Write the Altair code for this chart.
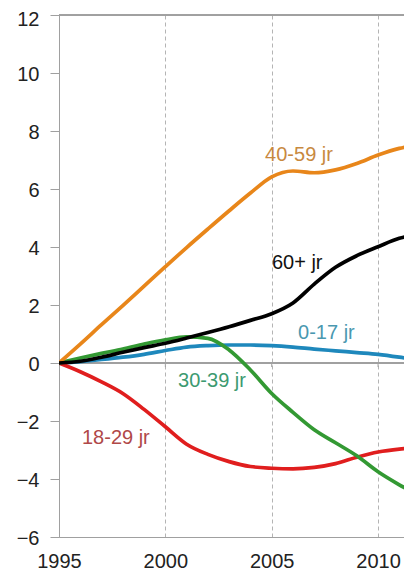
import altair as alt
import pandas as pd

years = list(range(1995, 2013))
s_0_17 = [0, 0.05, 0.12, 0.2, 0.3, 0.43, 0.55, 0.6, 0.62, 0.62, 0.6, 0.55, 0.48, 0.42, 0.36, 0.3, 0.2, 0.08]
s_18_29 = [0, -0.3, -0.65, -1.05, -1.6, -2.2, -2.8, -3.15, -3.4, -3.57, -3.63, -3.65, -3.6, -3.47, -3.25, -3.07, -2.97, -2.92]
s_30_39 = [0, 0.17, 0.33, 0.48, 0.65, 0.8, 0.9, 0.85, 0.45, -0.24, -1.05, -1.7, -2.3, -2.75, -3.2, -3.75, -4.2, -4.6]
s_40_59 = [0, 0.65, 1.32, 1.98, 2.65, 3.32, 3.98, 4.62, 5.25, 5.86, 6.42, 6.62, 6.56, 6.66, 6.88, 7.17, 7.4, 7.55]
s_60 = [0, 0.06, 0.2, 0.37, 0.53, 0.68, 0.86, 1.05, 1.25, 1.47, 1.7, 2.07, 2.72, 3.3, 3.7, 4.01, 4.3, 4.45]

series_names = ["0-17 jr", "18-29 jr", "30-39 jr", "40-59 jr", "60+ jr"]
series_values = [s_0_17, s_18_29, s_30_39, s_40_59, s_60]
line_colors = ["#1E88BC", "#E01E1E", "#339933", "#E8861A", "#000000"]
label_colors = ["#4A98B0", "#B04848", "#3C9A70", "#C8893F", "#111111"]

# label anchor positions (year, value)
label_x = [2006.24, 1996.08, 2000.6, 2004.69, 2005.01]
label_y = [1.02, -2.6, -0.62, 7.16, 3.46]

x_ticks = [1995, 2000, 2005, 2010]
y_ticks = [-6, -4, -2, 0, 2, 4, 6, 8, 10, 12]

rows = []
for name, vals in zip(series_names, series_values):
    for yr, v in zip(years, vals):
        rows.append({"year": yr, "value": v, "series": name})
df = pd.DataFrame(rows)

lab_df = pd.DataFrame({"series": series_names, "x": label_x, "y": label_y,
                       "col": label_colors})
tick_df = pd.DataFrame({"year": x_ticks[1:]})

FONT = "Liberation Sans"
xscale = alt.Scale(domain=[1995, 2011.22], nice=False, zero=False)
yscale = alt.Scale(domain=[-6, 12], nice=False)

xaxis = alt.Axis(values=x_ticks, format="d", title=None, ticks=False, tickSize=0,
                 labelPadding=14, labelFontSize=20, labelFont=FONT, labelColor="#222222",
                 domainColor="#A0A0A0", gridColor="#B4B4B4", gridDash=[4, 3],
                 labelFlush=False)
yaxis = alt.Axis(values=y_ticks, title=None, tickSize=9, tickColor="#A0A0A0",
                 labelPadding=11, labelFontSize=20, labelFont=FONT, labelColor="#222222",
                 labelOffset=alt.condition("datum.value == 12", alt.value(4), alt.value(1)),
                 domainColor="#A0A0A0", gridColor="#B4B4B4", gridDash=[4, 3])

zero = alt.Chart(df).mark_rule(color="#A0A0A0", strokeWidth=1.2).encode(y=alt.datum(0))
top = alt.Chart(df).mark_rule(color="#A0A0A0", strokeWidth=1).encode(y=alt.datum(12))

zticks = alt.Chart(tick_df).mark_rule(color="#A0A0A0", strokeWidth=1).encode(
    x=alt.X("year:Q", scale=xscale), y=alt.datum(0), y2=alt.datum(-0.14))

lines = alt.Chart(df).mark_line(strokeWidth=3.7, interpolate="monotone", clip=True).encode(
    x=alt.X("year:Q", scale=xscale, axis=xaxis),
    y=alt.Y("value:Q", scale=yscale, axis=yaxis),
    color=alt.Color("series:N", scale=alt.Scale(domain=series_names, range=line_colors),
                    legend=None),
    detail="series:N",
)

labels = alt.Chart(lab_df).mark_text(align="left", baseline="middle", fontSize=20,
                                     font=FONT).encode(
    x=alt.X("x:Q", scale=xscale),
    y=alt.Y("y:Q", scale=yscale),
    text="series:N",
    color=alt.Color("col:N", scale=None),
)

chart = alt.layer(zero, top, zticks, lines, labels).properties(
    width=345, height=522,
    autosize=alt.AutoSizeParams(type="none"),
    padding={"left": 51, "top": 7, "right": 0, "bottom": 34},
).configure_view(stroke=None).configure(background="white")

chart.save("out.html", embed_options={"renderer": "svg", "actions": False})
